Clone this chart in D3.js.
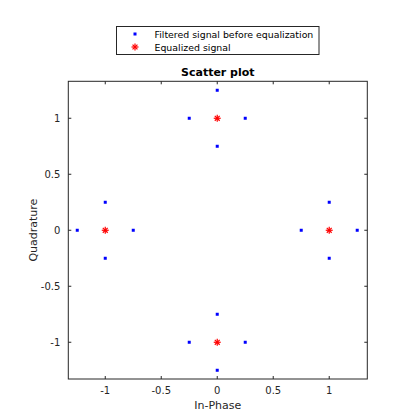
<!DOCTYPE html>
<html><head><meta charset="utf-8">
<script src="https://cdn.jsdelivr.net/npm/d3@7"></script>
<style>body{margin:0;background:#fff}svg{display:block}</style>
</head><body>
<script>
const filteredI = [1.25, 0.75, 1, 1, -1.25, -0.75, -1, -1, 0.25, -0.25, 0, 0, 0.25, -0.25, 0, 0];
const filteredQ = [0, 0, 0.25, -0.25, 0, 0, 0.25, -0.25, 1, 1, 1.25, 0.75, -1, -1, -1.25, -0.75];
const equalizedI = [1, -1, 0, 0];
const equalizedQ = [0, 0, 1, -1];
const tickValues = [-1, -0.5, 0, 0.5, 1];
const tickLabels = ["-1", "-0.5", "0", "0.5", "1"];
const legendLabels = ["Filtered signal before equalization", "Equalized signal"];

const W = 420, H = 420;
const svg = d3.select("body").append("svg").attr("width", W).attr("height", H);
const L = 68.3, R = 367.3, T = 81.3, B = 379;
const x = d3.scaleLinear().domain([-1.33, 1.34]).range([L, R]);
const y = d3.scaleLinear().domain([-1.328, 1.33]).range([B, T]);
const font = "DejaVu Sans, sans-serif";
const axisColor = "#262626";

svg.append("rect").attr("x", L).attr("y", T).attr("width", R - L).attr("height", B - T)
  .attr("fill", "none").attr("stroke", axisColor).attr("stroke-width", 1);

const tl = 3;
const g = svg.append("g");
tickValues.forEach((v, i) => {
  const px = x(v), py = y(v);
  g.append("line").attr("x1", px).attr("x2", px).attr("y1", B).attr("y2", B - tl).attr("stroke", axisColor);
  g.append("line").attr("x1", px).attr("x2", px).attr("y1", T).attr("y2", T + tl).attr("stroke", axisColor);
  g.append("line").attr("y1", py).attr("y2", py).attr("x1", L).attr("x2", L + tl).attr("stroke", axisColor);
  g.append("line").attr("y1", py).attr("y2", py).attr("x1", R).attr("x2", R - tl).attr("stroke", axisColor);
  g.append("text").attr("x", px).attr("y", B + 15).attr("text-anchor", "middle")
    .attr("font-family", font).attr("font-size", 10).attr("fill", axisColor).text(tickLabels[i]);
  g.append("text").attr("x", L - 8).attr("y", py + 3.5).attr("text-anchor", "end")
    .attr("font-family", font).attr("font-size", 10).attr("fill", axisColor).text(tickLabels[i]);
});

svg.append("text").attr("x", (L + R) / 2).attr("y", 409).attr("text-anchor", "middle")
  .attr("font-family", font).attr("font-size", 11).attr("fill", axisColor).text("In-Phase");
svg.append("text").attr("transform", `translate(37,${(T + B) / 2}) rotate(-90)`).attr("text-anchor", "middle")
  .attr("font-family", font).attr("font-size", 11).attr("fill", axisColor).text("Quadrature");
svg.append("text").attr("x", (L + R) / 2).attr("y", 76).attr("text-anchor", "middle")
  .attr("font-family", font).attr("font-size", 11).attr("font-weight", "bold").attr("fill", "#000").text("Scatter plot");

const blue = "#0000ff", red = "#ff0000";
filteredI.forEach((v, i) => {
  svg.append("rect").attr("x", x(v) - 1.5).attr("y", y(filteredQ[i]) - 1.5)
    .attr("width", 3).attr("height", 3).attr("fill", blue);
});
function star(cx, cy, r) {
  const s = svg.append("g").attr("stroke", red).attr("stroke-width", 1.2);
  s.append("line").attr("x1", cx - r).attr("x2", cx + r).attr("y1", cy).attr("y2", cy);
  s.append("line").attr("x1", cx).attr("x2", cx).attr("y1", cy - r).attr("y2", cy + r);
  const d = r * 0.7;
  s.append("line").attr("x1", cx - d).attr("x2", cx + d).attr("y1", cy - d).attr("y2", cy + d);
  s.append("line").attr("x1", cx - d).attr("x2", cx + d).attr("y1", cy + d).attr("y2", cy - d);
}
equalizedI.forEach((v, i) => star(x(v), y(equalizedQ[i]), 3.5));

svg.append("rect").attr("x", 116.5).attr("y", 26.5).attr("width", 202.5).attr("height", 28)
  .attr("fill", "#fff").attr("stroke", axisColor).attr("stroke-width", 1);
svg.append("rect").attr("x", 135 - 1.5).attr("y", 34 - 1.5).attr("width", 3).attr("height", 3).attr("fill", blue);
star(135, 47, 3.5);
legendLabels.forEach((t, i) => {
  svg.append("text").attr("x", 154.5).attr("y", 37.5 + i * 13).attr("font-family", font).attr("font-size", 9.4)
    .attr("fill", "#000").text(t);
});
</script>
</body></html>
